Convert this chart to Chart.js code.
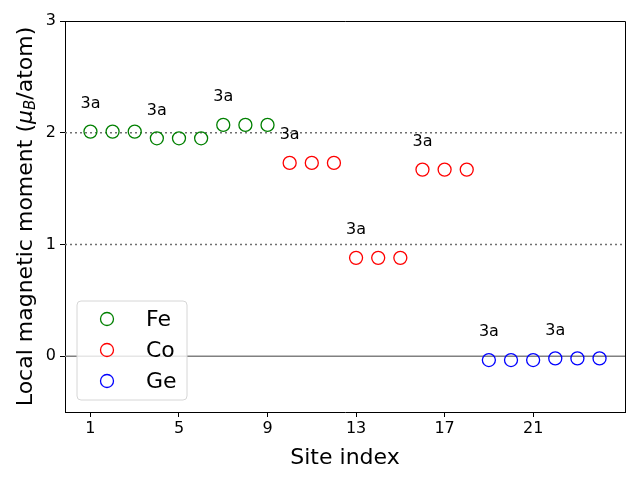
<!DOCTYPE html>
<html>
<head>
<meta charset="utf-8">
<script src="https://cdn.jsdelivr.net/npm/chart.js@4/dist/chart.umd.min.js"></script>
<style>
  html, body { margin: 0; padding: 0; background: #fff; }
  #wrap { width: 640px; height: 480px; }
</style>
</head>
<body>
<div id="wrap"><canvas id="chart1" width="640" height="480"></canvas></div>
<script>
var feSites = [1, 2, 3, 4, 5, 6, 7, 8, 9];
var feMoment = [2.01, 2.01, 2.01, 1.95, 1.95, 1.95, 2.07, 2.07, 2.07];
var coSites = [10, 11, 12, 13, 14, 15, 16, 17, 18];
var coMoment = [1.73, 1.73, 1.73, 0.88, 0.88, 0.88, 1.67, 1.67, 1.67];
var geSites = [19, 20, 21, 22, 23, 24];
var geMoment = [-0.035, -0.035, -0.035, -0.02, -0.02, -0.02];
var xTicks = [1, 5, 9, 13, 17, 21];
var yTicks = [0, 1, 2, 3];
// "3a" labels sit over the first site of every group of three
var labelSites = [1, 4, 7, 10, 13, 16, 19, 22];
var labelText = "3a";
var refLines = [2, 1];

var font = "'DejaVu Sans', sans-serif";

function pts(xs, ys) {
  return xs.map(function (x, i) { return { x: x, y: ys[i] }; });
}

var allSites = feSites.concat(coSites, geSites);
var allMoment = feMoment.concat(coMoment, geMoment);

var series = [
  { label: "Fe", color: "green", data: pts(feSites, feMoment) },
  { label: "Co", color: "red", data: pts(coSites, coMoment) },
  { label: "Ge", color: "blue", data: pts(geSites, geMoment) }
];

var extras = {
  id: "extras",
  beforeDatasetsDraw: function (chart) {
    var c = chart.ctx, a = chart.chartArea, ys = chart.scales.y;
    c.save();
    c.lineWidth = 1.5;
    c.strokeStyle = "#707070";
    c.setLineDash([2, 3]);
    refLines.forEach(function (v) {
      var py = ys.getPixelForValue(v);
      c.beginPath(); c.moveTo(a.left, py); c.lineTo(a.right, py); c.stroke();
    });
    c.setLineDash([]);
    c.strokeStyle = "#808080";
    var p0 = ys.getPixelForValue(0);
    c.beginPath(); c.moveTo(a.left, p0); c.lineTo(a.right, p0); c.stroke();
    c.restore();
  },
  afterDatasetsDraw: function (chart) {
    var c = chart.ctx, a = chart.chartArea, xs = chart.scales.x, ys = chart.scales.y;
    c.save();
    // frame on top and right
    c.strokeStyle = "#000";
    c.lineWidth = 1;
    c.beginPath();
    c.moveTo(a.left, Math.round(a.top) + 0.5);
    c.lineTo(Math.round(a.right) + 0.5, Math.round(a.top) + 0.5);
    c.lineTo(Math.round(a.right) + 0.5, a.bottom);
    c.stroke();

    c.fillStyle = "#000";
    c.font = "16px " + font;
    c.textAlign = "center";
    c.textBaseline = "middle";
    labelSites.forEach(function (s) {
      var v = allMoment[allSites.indexOf(s)];
      c.fillText(labelText, xs.getPixelForValue(s), ys.getPixelForValue(v + 0.25));
    });

    // legend box
    var lx = 77, ly = 301, lw = 110, lh = 99;
    c.beginPath();
    c.roundRect(lx, ly, lw, lh, 4);
    c.fillStyle = "rgba(255,255,255,0.8)";
    c.fill();
    c.strokeStyle = "#d6d6d6";
    c.lineWidth = 1;
    c.stroke();
    c.font = "22px " + font;
    c.textAlign = "left";
    series.forEach(function (s, i) {
      var cy = 319 + i * 31;
      c.beginPath();
      c.arc(107, cy, 6.5, 0, Math.PI * 2);
      c.strokeStyle = s.color;
      c.lineWidth = 1.3;
      c.stroke();
      c.fillStyle = "#000";
      c.fillText(s.label, 146, cy + 1);
    });

    // y axis title with subscript
    c.translate(26, (a.top + a.bottom) / 2);
    c.rotate(-Math.PI / 2);
    var big = "22px " + font, ital = "italic 22px " + font;
    var parts = [
      { t: "Local magnetic moment (", f: big, dy: 0 },
      { t: "\u03bc", f: ital, dy: 0 },
      { t: "B", f: "italic 15px " + font, dy: 5 },
      { t: "/atom)", f: big, dy: 0 }
    ];
    var total = 0;
    parts.forEach(function (p) { c.font = p.f; p.w = c.measureText(p.t).width; total += p.w; });
    var x = -total / 2;
    c.textBaseline = "middle";
    parts.forEach(function (p) {
      c.font = p.f;
      c.fillText(p.t, x, p.dy);
      x += p.w;
    });
    c.restore();
  }
};

var ctx1 = document.getElementById("chart1").getContext("2d");
new Chart(ctx1, {
  type: "scatter",
  data: {
    datasets: series.map(function (s) {
      return {
        label: s.label,
        data: s.data,
        borderColor: s.color,
        backgroundColor: "rgba(0,0,0,0)",
        borderWidth: 1.3,
        pointRadius: 6.5,
        pointHoverRadius: 6.5
      };
    })
  },
  options: {
    responsive: false,
    animation: false,
    layout: { padding: { left: 0, top: 21, right: 15, bottom: 0 } },
    plugins: { legend: { display: false }, tooltip: { enabled: false } },
    scales: {
      x: {
        type: "linear",
        min: -0.15,
        max: 25.15,
        afterBuildTicks: function (scale) {
          scale.ticks = xTicks.map(function (v) { return { value: v }; });
        },
        afterFit: function (scale) { scale.height = 68; },
        grid: { drawOnChartArea: false, color: "#000", tickLength: 5, tickWidth: 1 },
        border: { display: true, color: "#000", width: 1 },
        ticks: { color: "#000", font: { size: 16, family: font }, padding: 2, maxRotation: 0 },
        title: { display: true, text: "Site index", color: "#000", font: { size: 22, family: font }, padding: { top: 0, bottom: 9 } }
      },
      y: {
        min: -0.5,
        max: 3,
        afterBuildTicks: function (scale) {
          scale.ticks = yTicks.map(function (v) { return { value: v }; });
        },
        afterFit: function (scale) { scale.width = 65; },
        grid: { drawOnChartArea: false, color: "#000", tickLength: 5, tickWidth: 1 },
        border: { display: true, color: "#000", width: 1 },
        ticks: { color: "#000", font: { size: 16, family: font }, padding: 4 }
      }
    }
  },
  plugins: [extras]
});
</script>
</body>
</html>
